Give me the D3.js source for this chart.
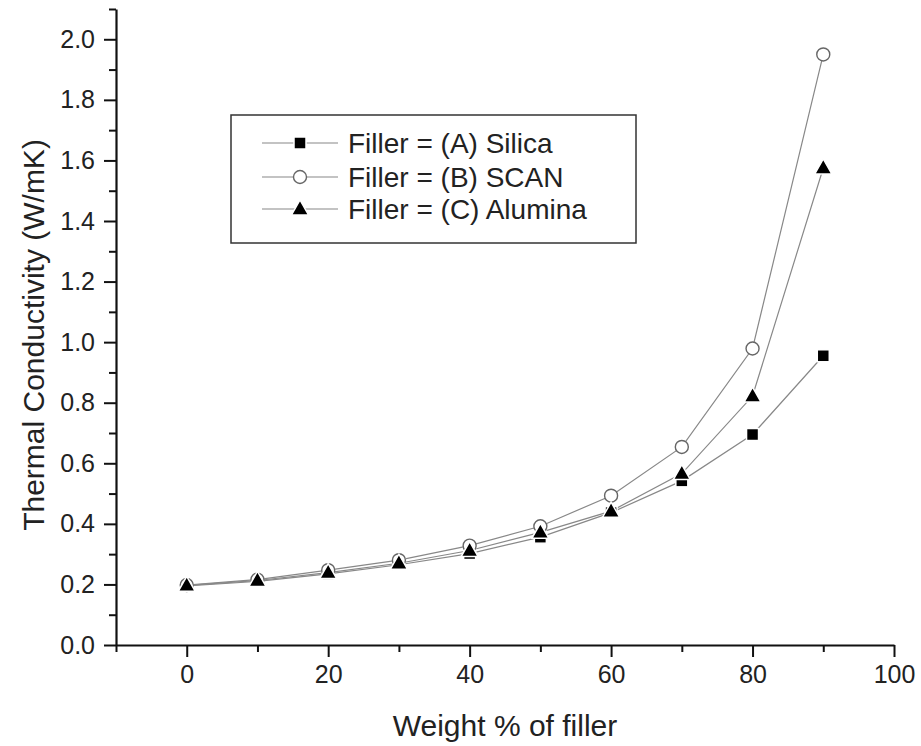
<!DOCTYPE html>
<html>
<head>
<meta charset="utf-8">
<script src="https://cdn.jsdelivr.net/npm/d3@7"></script>
<style>
  body { margin: 0; background: #fff; }
  svg { display: block; font-family: "Liberation Sans", Arial, sans-serif; }
  .axis path, .axis line { stroke: #111; }
  .axis text { font-size: 25px; fill: #222; font-family: "Liberation Sans", Arial, sans-serif; }
</style>
</head>
<body>
<div id="chart"></div>
<script>
const weights = [0, 10, 20, 30, 40, 50, 60, 70, 80, 90];
const silica  = [0.195, 0.210, 0.235, 0.265, 0.302, 0.356, 0.437, 0.542, 0.695, 0.955];
const scan    = [0.198, 0.216, 0.247, 0.280, 0.328, 0.392, 0.493, 0.654, 0.979, 1.950];
const alumina = [0.197, 0.213, 0.239, 0.270, 0.312, 0.372, 0.442, 0.566, 0.822, 1.575];
const seriesNames = ["Filler = (A) Silica", "Filler = (B) SCAN", "Filler = (C) Alumina"];
const xTicks = [0, 20, 40, 60, 80, 100];
const xMinor = [-10, 10, 30, 50, 70, 90];
const yTicks = [0, 0.2, 0.4, 0.6, 0.8, 1.0, 1.2, 1.4, 1.6, 1.8, 2.0];
const yMinor = [0.1, 0.3, 0.5, 0.7, 0.9, 1.1, 1.3, 1.5, 1.7, 1.9, 2.1];

const width = 921, height = 746;
const margin = {left: 116, right: 27, top: 9, bottom: 101};

const svg = d3.select("#chart").append("svg")
    .attr("width", width)
    .attr("height", height);

const xScale = d3.scaleLinear().domain([-10, 100]).range([margin.left, width - margin.right]);
const yScale = d3.scaleLinear().domain([0, 2.1]).range([height - margin.bottom, margin.top]);

// axes
const xAxis = svg.append("g").attr("class", "axis")
    .attr("transform", `translate(0,${yScale(0)})`)
    .call(d3.axisBottom(xScale).tickValues(xTicks).tickSize(12).tickSizeOuter(0).tickPadding(8).tickFormat(d3.format("d")));
xAxis.select(".domain").attr("stroke-width", 2.2);
xAxis.selectAll(".tick line").attr("stroke-width", 2);

svg.append("g").attr("class", "axis")
    .attr("transform", `translate(0,${yScale(0)})`)
    .call(d3.axisBottom(xScale).tickValues(xMinor).tickSize(7).tickFormat(""))
    .call(g => g.select(".domain").remove())
    .selectAll(".tick line").attr("stroke-width", 2);

const yAxis = svg.append("g").attr("class", "axis")
    .attr("transform", `translate(${xScale(-10)},0)`)
    .call(d3.axisLeft(yScale).tickValues(yTicks).tickSize(12).tickSizeOuter(0).tickPadding(9).tickFormat(d3.format(".1f")));
yAxis.select(".domain").attr("stroke-width", 2.2);
yAxis.selectAll(".tick line").attr("stroke-width", 2);

svg.append("g").attr("class", "axis")
    .attr("transform", `translate(${xScale(-10)},0)`)
    .call(d3.axisLeft(yScale).tickValues(yMinor).tickSize(7).tickFormat(""))
    .call(g => g.select(".domain").remove())
    .selectAll(".tick line").attr("stroke-width", 2);

// axis titles
svg.append("text")
    .attr("x", (xScale(-10) + xScale(100)) / 2)
    .attr("y", 736)
    .attr("text-anchor", "middle")
    .attr("font-size", 30)
    .attr("fill", "#222")
    .text("Weight % of filler");

svg.append("text")
    .attr("transform", `translate(44,${(yScale(0) + yScale(2.1)) / 2 + 8}) rotate(-90)`)
    .attr("text-anchor", "middle")
    .attr("font-size", 30)
    .attr("fill", "#222")
    .text("Thermal Conductivity (W/mK)");

// markers
function drawMarker(g, type, cx, cy) {
    if (type === "square") {
        g.append("rect").attr("x", cx - 6).attr("y", cy - 6).attr("width", 12).attr("height", 12)
            .attr("fill", "#000").attr("stroke", "#fff").attr("stroke-width", 1.5);
    } else if (type === "circle") {
        g.append("circle").attr("cx", cx).attr("cy", cy).attr("r", 6.5)
            .attr("fill", "#fff").attr("stroke", "#666").attr("stroke-width", 1.4);
    } else {
        g.append("path")
            .attr("d", `M${cx},${cy - 9}L${cx + 8.5},${cy + 6}L${cx - 8.5},${cy + 6}Z`)
            .attr("fill", "#000").attr("stroke", "#fff").attr("stroke-width", 1.5);
    }
}

const series = [
    {name: seriesNames[0], values: silica, type: "square"},
    {name: seriesNames[1], values: scan, type: "circle"},
    {name: seriesNames[2], values: alumina, type: "triangle"}
];

const line = d3.line()
    .x(d => xScale(d[0]))
    .y(d => yScale(d[1]));

series.forEach(s => {
    const pts = weights.map((w, i) => [w, s.values[i]]);
    svg.append("path")
        .datum(pts)
        .attr("fill", "none")
        .attr("stroke", "#888")
        .attr("stroke-width", 1.2)
        .attr("d", line);
});

series.forEach(s => {
    const g = svg.append("g");
    weights.forEach((w, i) => drawMarker(g, s.type, xScale(w), yScale(s.values[i])));
});

// legend
const legend = svg.append("g");
legend.append("rect")
    .attr("x", 231).attr("y", 115)
    .attr("width", 405).attr("height", 128)
    .attr("fill", "#fff")
    .attr("stroke", "#333")
    .attr("stroke-width", 1.5);

const legendY = [143, 177, 209];
series.forEach((s, i) => {
    legend.append("line")
        .attr("x1", 262).attr("x2", 338)
        .attr("y1", legendY[i]).attr("y2", legendY[i])
        .attr("stroke", "#888").attr("stroke-width", 1.2);
    drawMarker(legend, s.type, 300, legendY[i]);
    legend.append("text")
        .attr("x", 348).attr("y", legendY[i])
        .attr("dy", "0.35em")
        .attr("font-size", 28)
        .attr("fill", "#222")
        .text(s.name);
});
</script>
</body>
</html>
